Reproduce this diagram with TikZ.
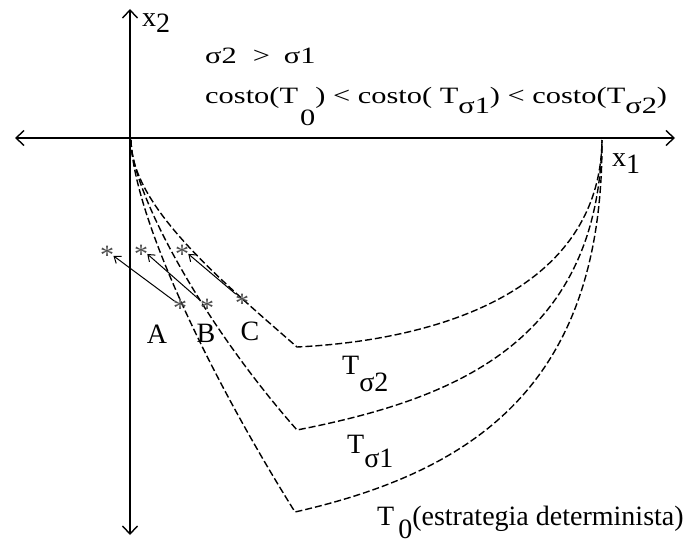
\documentclass[tikz,border=0pt]{standalone}
\usepackage{fontspec}
\setmainfont{Liberation Serif}
\newfontfamily\widefont{Liberation Serif}[FakeStretch=1.3]
\usetikzlibrary{arrows.meta}
\newcommand{\astk}{\raisebox{0pt}[19pt][-9pt]{*}}
\tikzset{
  axis/.style={line width=1.4pt,-{Straight Barb[length=8pt,width=15pt,line width=1.4pt]}},
  curve/.style={line width=1.4pt,dash pattern=on 7pt off 3pt},
  move/.style={line width=1pt,-{Straight Barb[length=6pt,width=9pt,line width=1pt]},shorten <=3pt,shorten >=3pt},
  star/.style={inner sep=0pt,text=black!70,font=\fontsize{28}{28}\selectfont},
  lbl/.style={inner sep=0pt,font=\fontsize{28}{32}\selectfont},
  top/.style={inner sep=0pt,font=\widefont\fontsize{23.4}{27}\selectfont}
}
\begin{document}
\begin{tikzpicture}[x=1pt,y=-1pt]
\useasboundingbox (0,0) rectangle (691,543);
% axes
\coordinate (o) at (130,138);
\coordinate (xl) at (15,138);
\coordinate (xr) at (675,138);
\coordinate (yt) at (130,9);
\coordinate (yb) at (130,535);
\draw[axis] (o) -- (xr);
\draw[axis] (o) -- (xl);
\draw[axis] (o) -- (yt);
\draw[axis] (o) -- (yb);
% curve end points
\coordinate (s) at (131,140);
\coordinate (e) at (602,140);
\coordinate (v2) at (297,347);
\coordinate (v1) at (297,430);
\coordinate (v0) at (295,512);
% curves
\draw[curve] (s) .. controls (131,205) and (218,278) .. (v2)
  .. controls (440,340) and (600,290) .. (e);
\draw[curve] (s) .. controls (131,190) and (200,320) .. (v1)
  .. controls (450,400) and (598,345) .. (e);
\draw[curve] (s) .. controls (133,210) and (200,360) .. (v0)
  .. controls (480,470) and (603,380) .. (e);
% stars and arrows
\node[star] (sA) at (180,308) {\astk};
\node[star] (sB) at (207,308) {\astk};
\node[star] (sC) at (242,303) {\astk};
\node[star] (tA) at (107,255) {\astk};
\node[star] (tB) at (141,254) {\astk};
\node[star] (tC) at (182,254) {\astk};
\coordinate (pA) at (177,303);
\coordinate (pB) at (202,302);
\coordinate (pC) at (238,296);
\coordinate (qA) at (111,254);
\coordinate (qB) at (145,252);
\coordinate (qC) at (186,252);
\draw[move] (pA) -- (qA);
\draw[move] (pB) -- (qB);
\draw[move] (pC) -- (qC);
\node[lbl] (A) at (157,334) {A};
\node[lbl] (B) at (206,333) {B};
\node[lbl] (C) at (250,331) {C};
% axis labels
\node[lbl,anchor=base west] (x2) at (142,27) {x\raisebox{-6pt}{2}};
\node[lbl,anchor=base west] (x1) at (612,166) {x\raisebox{-7pt}{1}};
% curve labels
\node[lbl,anchor=base west] (L2) at (342,374) {T\raisebox{-17pt}{σ2}};
\node[lbl,anchor=base west] (L1) at (347,453) {T\raisebox{-14pt}{σ1}};
\node[lbl,anchor=base west] (L0) at (377,525) {T\hspace{4pt}\raisebox{-13pt}{0}(estrategia determinista)};
% top text
\node[top,anchor=base west] (ineq) at (205,64) {σ2\hspace{16pt}>\hspace{14pt}σ1};
\node[top,anchor=base west] (cost) at (205,103) {costo(T\hspace{2pt}\raisebox{-22pt}{0}) < costo( T\raisebox{-10pt}{σ1}) < costo(T\raisebox{-10pt}{σ2})};
\end{tikzpicture}
\end{document}
